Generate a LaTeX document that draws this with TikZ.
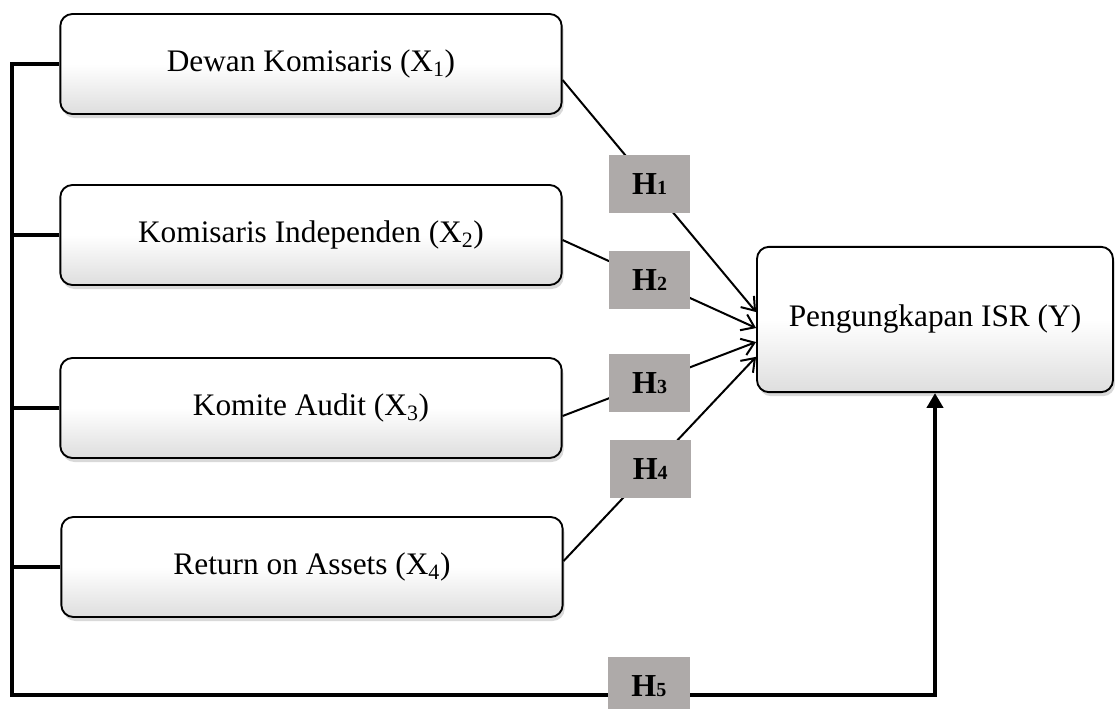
\documentclass[tikz,border=0pt]{standalone}
\usepackage{fontspec}
\setmainfont{Liberation Serif}
\usepackage{xcolor}
\usepackage{tikz}
\usetikzlibrary{arrows.meta}
\usetikzlibrary{shadows}
\definecolor{hgray}{RGB}{174,170,169}
\newcommand{\hsub}[1]{{\fontsize{15}{15}\selectfont #1}}

\begin{document}
\begin{tikzpicture}[x=0.75pt,y=-0.75pt,
    var/.style={draw,line width=1.4pt,rounded corners=9pt,
      top color=white,bottom color=black!13,middle color=white,
      drop shadow={shadow xshift=1.5pt,shadow yshift=-3pt,opacity=0.3},
      minimum width=376pt,minimum height=75pt,
      font=\fontsize{23.5}{28}\selectfont},
    hyp/.style={fill=hgray,inner sep=0pt,minimum width=61pt,minimum height=43.5pt,
      font=\fontsize{24}{28}\selectfont\bfseries},
    link/.style={line width=1.5pt,-{Straight Barb[length=9pt,width=13pt,line width=1.5pt]}},
    trunkline/.style={line width=2.6pt}]
  \useasboundingbox (0,0) rectangle (1115,708);

  \node[var] (d1) at (311,64) {Dewan Komisaris (X\textsubscript{1})};
  \node[var] (d2) at (311,235) {Komisaris Independen (X\textsubscript{2})};
  \node[var] (d3) at (311,408) {Komite Audit (X\textsubscript{3})};
  \node[var] (d4) at (312,567) {Return on Assets (X\textsubscript{4})};
  \node[var,minimum width=267pt,minimum height=109pt] (isr) at (935,319.5) {Pengungkapan ISR (Y)};

  % hipotesis
  \draw[link] ([yshift=-12pt]d1.east) -- node[hyp,pos=0.45]{H\hsub{1}} ([yshift=5.6pt]isr.west);
  \draw[link] ([yshift=-3.75pt]d2.east) -- node[hyp,pos=0.45]{H\hsub{2}} ([yshift=-6.4pt]isr.west);
  \draw[link] ([yshift=-6pt]d3.east) -- node[hyp,pos=0.45]{H\hsub{3}} ([yshift=-16.9pt]isr.west);
  \draw[link] ([yshift=4.5pt]d4.east) -- node[hyp,pos=0.45]{H\hsub{4}} ([yshift=-28pt]isr.west);

  % simultan
  \coordinate (trunk) at (12,695);
  \draw[trunkline,-{Triangle[length=11pt,width=12pt]}] (d1.west) -- (d1.west -| trunk) -- (trunk)
    -- node[hyp,pos=0.69,yshift=7pt]{H\hsub{5}} (trunk -| isr.south) -- (isr.south);
  \foreach \v in {d2,d3,d4}
  {
    \draw[trunkline] (\v.west) -- (\v.west -| trunk);
  }
\end{tikzpicture}
\end{document}
